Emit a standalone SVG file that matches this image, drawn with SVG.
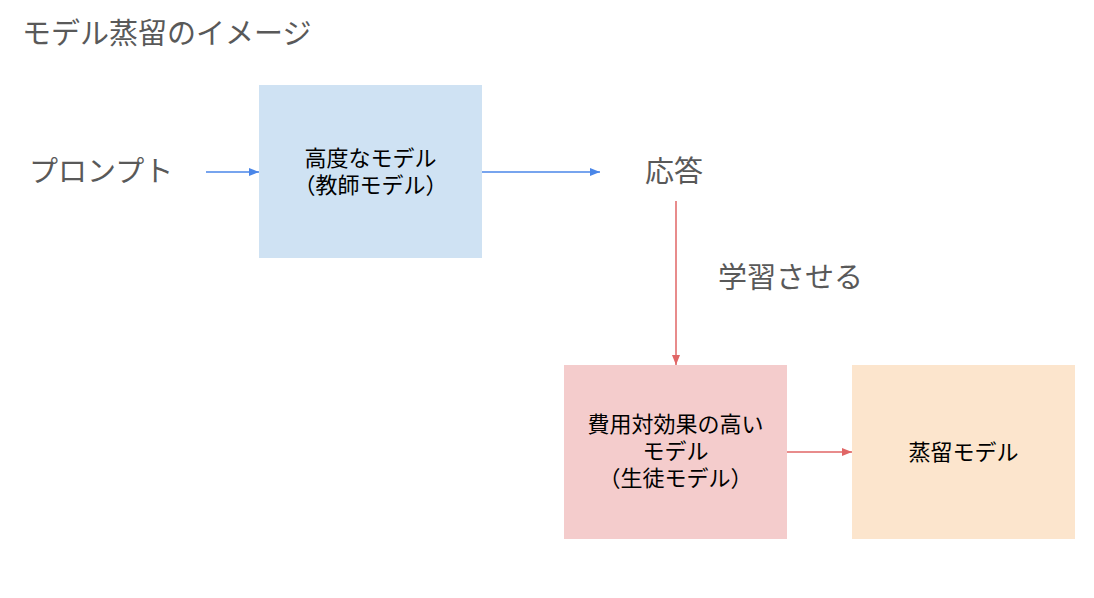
<svg xmlns="http://www.w3.org/2000/svg" width="1094" height="598" viewBox="0 0 1094 598">
<style>
.lbl{font-family:"Noto Sans CJK JP","Noto Sans",sans-serif;font-size:29px;fill:#595959}
.box{font-family:"Noto Sans CJK JP","Noto Sans",sans-serif;font-size:22px;fill:#000;text-anchor:middle}
.blue{stroke:#4a86e8;stroke-width:1.5;fill:none}
.red{stroke:#e06666;stroke-width:1.5;fill:none}
</style>
<defs>
<marker id="ab" viewBox="0 0 10 8" refX="10" refY="4" markerWidth="10" markerHeight="8" markerUnits="userSpaceOnUse" orient="auto"><path d="M0,0L10,4L0,8z" fill="#4a86e8"/></marker>
<marker id="ar" viewBox="0 0 10 8" refX="10" refY="4" markerWidth="10" markerHeight="8" markerUnits="userSpaceOnUse" orient="auto"><path d="M0,0L10,4L0,8z" fill="#e06666"/></marker>
</defs>
<rect width="1094" height="598" fill="#fff"/>
<text class="lbl" x="22" y="44">モデル蒸留のイメージ</text>
<g id="prompt"><text class="lbl" x="29" y="182">プロンプト</text></g>
<g id="teacher">
<rect x="259" y="85" width="223" height="173" fill="#cfe2f3"/>
<text class="box" x="370.5" y="166">高度なモデル</text>
<text class="box" x="370.5" y="193">（教師モデル）</text>
</g>
<g id="response"><text class="lbl" x="645" y="182">応答</text></g>
<g id="learn"><text class="lbl" x="718" y="288">学習させる</text></g>
<g id="student">
<rect x="564" y="365" width="223" height="174" fill="#f4cccc"/>
<text class="box" x="675.5" y="432">費用対効果の高い</text>
<text class="box" x="675.5" y="459">モデル</text>
<text class="box" x="675.5" y="486">（生徒モデル）</text>
</g>
<g id="distilled">
<rect x="852" y="365" width="223" height="174" fill="#fce5cd"/>
<text class="box" x="963.5" y="460">蒸留モデル</text>
</g>
<g id="connectors">
<line class="blue" x1="206" y1="172" x2="259" y2="172" marker-end="url(#ab)"/>
<line class="blue" x1="482" y1="172" x2="600" y2="172" marker-end="url(#ab)"/>
<line class="red" x1="676" y1="201" x2="676" y2="365" marker-end="url(#ar)"/>
<line class="red" x1="787" y1="452" x2="852" y2="452" marker-end="url(#ar)"/>
</g>
</svg>
